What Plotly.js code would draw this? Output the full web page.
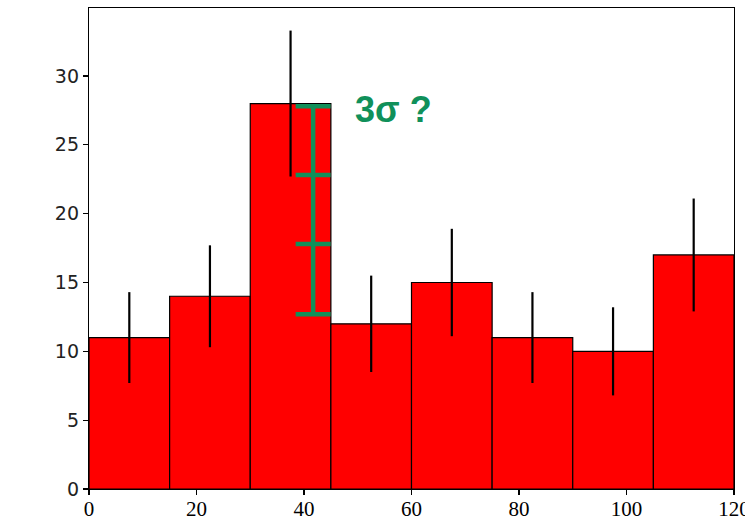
<!DOCTYPE html>
<html>
<head>
<meta charset="utf-8">
<script src="https://cdn.plot.ly/plotly-3.0.1.min.js"></script>
<style>
  html, body { margin: 0; padding: 0; background: #fff; }
  #chart { width: 745px; height: 522px; }
</style>
</head>
<body>
<div id="chart"></div>
<script>
// Histogram bins (width 15) and counts with their error bars
const binCenters = [7.5, 22.5, 37.5, 52.5, 67.5, 82.5, 97.5, 112.5];
const binWidth = 15;
const counts = [11, 14, 28, 12, 15, 11, 10, 17];
const countErrors = [3.3, 3.7, 5.3, 3.5, 3.9, 3.3, 3.2, 4.1];

// Sigma ladder drawn beside the tallest bin
const ladderX = 41.7;
const ladderLevels = [27.8, 22.8, 17.8, 12.7];
const ladderLabel = '3σ ?';

const xTicks = [0, 20, 40, 60, 80, 100, 120];
const yTicks = [0, 5, 10, 15, 20, 25, 30];

const green = '#10905a';

const traces = [
  {
    type: 'bar',
    x: binCenters,
    y: counts,
    width: binCenters.map(() => binWidth),
    marker: { color: '#ff0000', line: { color: '#000', width: 1.2 } },
    error_y: { type: 'data', array: countErrors, visible: true, color: '#000', thickness: 2.2, width: 0 },
    hoverinfo: 'x+y'
  },
  {
    type: 'scatter',
    mode: 'lines',
    x: ladderLevels.map(() => ladderX),
    y: ladderLevels,
    line: { color: green, width: 4.5 },
    hoverinfo: 'skip'
  },
  {
    type: 'scatter',
    mode: 'markers',
    x: ladderLevels.map(() => ladderX),
    y: ladderLevels,
    marker: { symbol: 'line-ew', size: 25, line: { color: green, width: 4.5 } },
    hoverinfo: 'skip'
  }
];

const layout = {
  width: 745,
  height: 522,
  margin: { l: 89, r: 11, t: 8, b: 33, pad: 0 },
  paper_bgcolor: '#fff',
  plot_bgcolor: '#fff',
  showlegend: false,
  bargap: 0,
  xaxis: {
    range: [0, 120],
    tickvals: xTicks,
    ticktext: xTicks.map(String),
    ticklabeloverflow: 'allow',
    ticklabelstandoff: -4,
    ticks: 'outside', ticklen: 5, tickwidth: 1.2, tickcolor: '#000',
    showline: true, linecolor: '#000', linewidth: 1.2, mirror: true,
    showgrid: false, zeroline: false,
    tickfont: { family: 'Liberation Serif, Times New Roman, serif', size: 21, color: '#000' }
  },
  yaxis: {
    range: [0, 34.94],
    tickvals: yTicks,
    ticktext: yTicks.map(String),
    ticks: 'outside', ticklen: 5, tickwidth: 1.2, tickcolor: '#000',
    showline: true, linecolor: '#000', linewidth: 1.2, mirror: true,
    showgrid: false, zeroline: false,
    tickfont: { family: 'DejaVu Sans, sans-serif', size: 19, color: '#222' }
  },
  annotations: [
    {
      x: 49.2, y: 27.6, xref: 'x', yref: 'y',
      xanchor: 'left', yanchor: 'middle',
      text: '<b>' + ladderLabel + '</b>',
      showarrow: false,
      font: { family: 'Liberation Sans, Arial, sans-serif', size: 36, color: green }
    }
  ]
};

Plotly.newPlot('chart', traces, layout, { displayModeBar: false, staticPlot: true });
</script>
</body>
</html>
